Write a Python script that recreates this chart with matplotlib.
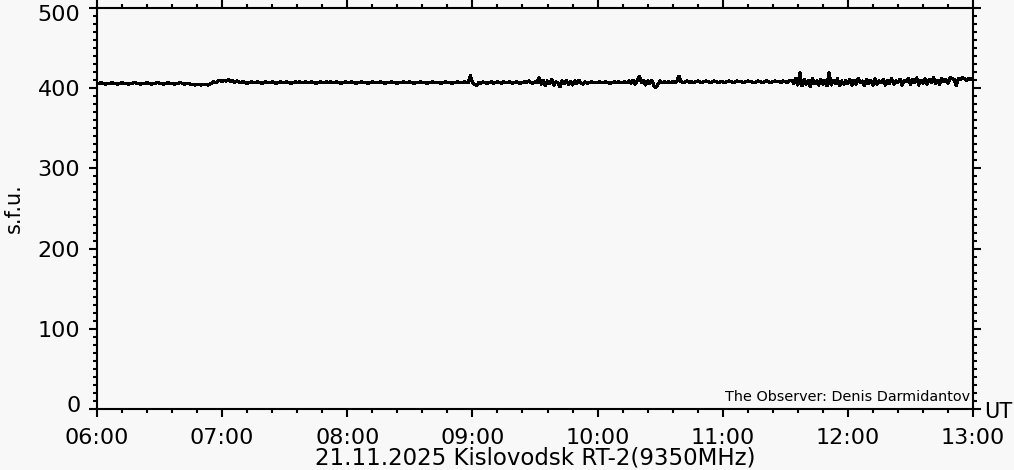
import numpy as np
import matplotlib
matplotlib.use("Agg")
import matplotlib.pyplot as plt
from matplotlib.ticker import MultipleLocator, FixedLocator
from matplotlib.transforms import ScaledTranslation

# ---- data (flux in s.f.u., one sample per minute from 06:00 to 13:00 UT) ----
start_hour = 6.0
step_minutes = 1
h06 = [406,406,407,406,405,406,406,407,406,406,
       405,406,407,406,406,405,406,406,407,406,
       406,405,406,406,407,406,405,406,406,407,
       406,406,405,406,407,406,406,405,406,406,
       407,406,405,406,406,405,405,404,405,405,
       404,405,405,404,405,406,408,407,409,410]
h07 = [408,410,409,411,408,410,407,409,408,407,
       408,407,406,407,408,407,407,408,407,406,
       407,408,407,407,408,407,406,407,408,407,
       407,408,407,406,407,408,407,408,407,407,
       408,407,407,408,407,406,407,408,407,407,
       408,407,408,407,407,408,407,406,407,408]
h08 = [407,407,408,407,406,407,407,408,407,407,
       406,407,408,407,407,407,408,407,406,407,
       407,408,407,407,406,407,407,408,407,407,
       408,407,406,407,407,408,407,407,406,407,
       407,408,407,407,407,406,407,408,407,407,
       406,407,407,408,407,407,408,407,407,416]
h09 = [407,405,403,407,406,408,407,406,407,408,
       406,407,408,407,406,408,407,407,408,406,
       407,408,407,406,407,408,407,409,407,406,
       408,407,413,405,410,403,409,406,411,404,
       408,407,402,409,406,410,405,408,404,409,
       406,410,407,405,408,406,407,408,407,407]
h10 = [407,408,407,407,408,407,406,407,408,407,
       408,407,407,408,407,409,406,410,405,409,
       415,407,410,404,409,406,410,403,401,405,
       409,407,408,407,408,407,408,407,409,415,
       408,407,408,409,407,408,407,408,409,408,
       407,408,409,408,407,408,409,408,407,408]
h11 = [408,407,408,409,408,407,408,409,408,408,
       407,408,409,408,408,407,408,409,408,407,
       408,409,408,407,408,409,408,408,407,409,
       408,407,409,410,406,412,404,419,403,411,
       405,410,402,412,406,409,404,411,405,410,
       403,419,404,410,406,412,403,409,405,410]
h12 = [406,411,404,410,405,412,407,409,403,411,
       406,410,404,412,405,409,407,411,404,410,
       406,412,405,409,407,411,404,410,408,412,
       405,411,407,413,404,410,406,412,405,411,
       407,413,406,410,405,412,408,411,406,413,
       412,411,403,412,411,413,412,410,412,411]
h13 = [412]
flux = np.array(h06 + h07 + h08 + h09 + h10 + h11 + h12 + h13, dtype=float)
times = start_hour + np.arange(len(flux)) * step_minutes / 60.0

hour_ticks = [6, 7, 8, 9, 10, 11, 12, 13]
hour_labels = ["06:00", "07:00", "08:00", "09:00", "10:00", "11:00", "12:00", "13:00"]
flux_ticks = [0, 100, 200, 300, 400, 500]

title_text = "21.11.2025 Kislovodsk RT-2(9350MHz)"
observer_text = "The Observer: Denis Darmidantov"

bg = "#f8f8f8"
plt.rcParams["font.family"] = ["DejaVu Sans"]

fig = plt.figure(figsize=(10.14, 4.70), dpi=100, facecolor=bg)
ax = fig.add_axes([97/1014, 1 - 409/470, 876/1014, 401/470], facecolor=bg)

ax.plot(times, flux, color="black", lw=1.6, antialiased=False)

ax.set_xlim(6, 13)
ax.set_ylim(0, 500)
ax.xaxis.set_major_locator(FixedLocator(hour_ticks))
ax.set_xticklabels(hour_labels)
ax.xaxis.set_minor_locator(MultipleLocator(0.2))
ax.set_yticks(flux_ticks)
ax.yaxis.set_minor_locator(MultipleLocator(10))

for s in ax.spines.values():
    s.set_linewidth(1.5)

ax.tick_params(which="both", direction="out", top=True, right=True,
               labeltop=False, labelright=False, width=1.5, color="black")
ax.tick_params(which="major", length=6)
ax.tick_params(which="minor", length=3)
ax.tick_params(axis="both", which="major", labelsize=16)
ax.tick_params(axis="y", pad=6)
ax.tick_params(axis="x", pad=8)

# shift extreme y labels inward like the original
ylabs = ax.get_yticklabels()
ylabs[0].set_transform(ylabs[0].get_transform() + ScaledTranslation(0, 5/100, fig.dpi_scale_trans))
ylabs[-1].set_transform(ylabs[-1].get_transform() + ScaledTranslation(0, -5/100, fig.dpi_scale_trans))

ax.set_ylabel("s.f.u.", fontsize=15)
ax.yaxis.set_label_coords(-0.083, 0.5)
fig.text(535/1014, 1 - 458/470, title_text, fontsize=16.5, ha="center", va="center")
fig.text(984/1014, 1 - 412/470, "UT", fontsize=15, ha="left", va="center")
ax.text(0.997, 0.012, observer_text, transform=ax.transAxes, fontsize=10.4,
        ha="right", va="bottom")

fig.savefig("out.png", dpi=100, facecolor=bg)
